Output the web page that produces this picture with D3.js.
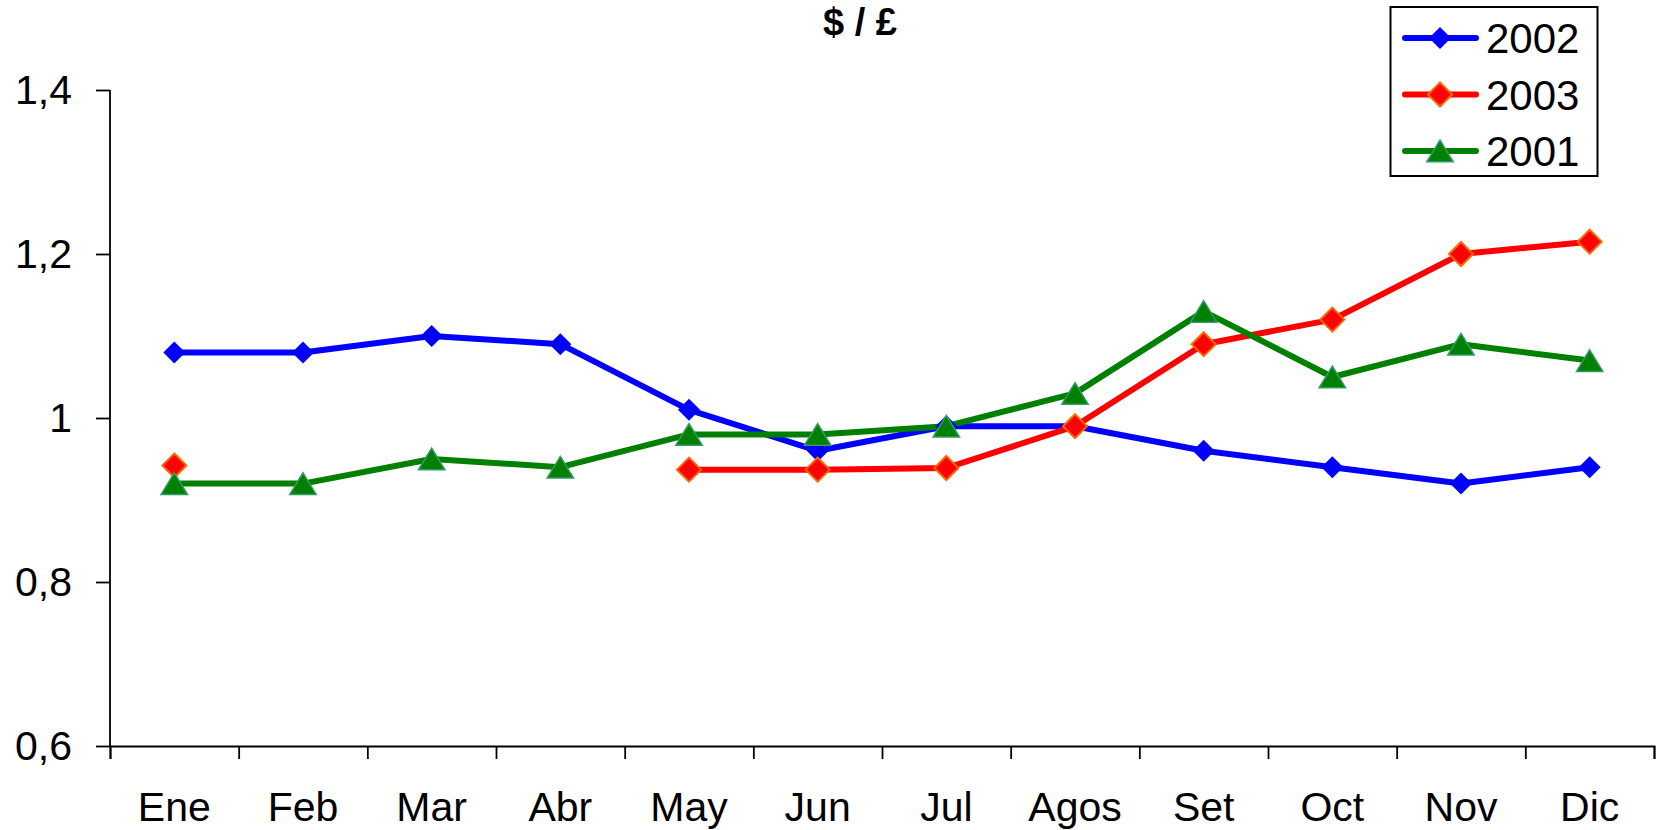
<!DOCTYPE html>
<html>
<head>
<meta charset="utf-8">
<script src="https://cdn.jsdelivr.net/npm/d3@7"></script>
<style>
  body { margin: 0; background: #fff; }
  svg { display: block; font-family: "Liberation Sans", Arial, sans-serif; }
</style>
</head>
<body>
<svg id="chart" width="1659" height="830"></svg>
<script>
const months = ["Ene", "Feb", "Mar", "Abr", "May", "Jun", "Jul", "Agos", "Set", "Oct", "Nov", "Dic"];
const yTicks = [0.6, 0.8, 1, 1.2, 1.4];

// series in legend order (also drawing order)
const v2002 = [1.08, 1.08, 1.10, 1.09, 1.01, 0.96, 0.99, 0.99, 0.96, 0.94, 0.92, 0.94];
const v2003 = [0.942, null, null, null, 0.937, 0.937, 0.939, 0.99, 1.09, 1.12, 1.20, 1.215];
const v2001 = [0.92, 0.92, 0.95, 0.94, 0.98, 0.98, 0.99, 1.03, 1.13, 1.05, 1.09, 1.07];

const series = [
  {name: "2002", values: v2002, color: "#0000ff", marker: "diamond", fill: "#0000ff", stroke: "#0000ff", size: 11, sw: 0},
  {name: "2003", values: v2003, color: "#ff0000", marker: "diamond", fill: "#ff0000", stroke: "#ff6600", size: 12, sw: 2},
  {name: "2001", values: v2001, color: "#008000", marker: "triangle", fill: "#008000", stroke: "#339966", size: 12, sw: 1.5}
];

const svg = d3.select("#chart");
const margin = {left: 110, right: 5, top: 90, bottom: 84};
const W = 1659, H = 830;

const x = d3.scaleBand().domain(months).range([margin.left, W - margin.right]);
const xEdge = d3.scaleLinear().domain([0, months.length]).range([margin.left, W - margin.right]);
const y = d3.scaleLinear().domain([0.6, 1.4]).range([H - margin.bottom, margin.top]);
const cx = m => x(m) + x.bandwidth() / 2;

svg.append("rect").attr("width", W).attr("height", H).attr("fill", "#fff");

// title
svg.append("text")
  .attr("x", 860).attr("y", 35)
  .attr("text-anchor", "middle")
  .attr("font-size", 38).attr("font-weight", "bold")
  .text("$ / £");

// y axis
const yAxis = svg.append("g")
  .attr("transform", `translate(${margin.left},0)`)
  .call(d3.axisLeft(y).tickValues(yTicks).tickSize(14).tickPadding(24)
    .tickFormat(d => String(d).replace(".", ",")));

// x axis: tick marks at band edges, labels at band centres
const xTicks = svg.append("g")
  .attr("transform", `translate(0,${y(0.6)})`)
  .call(d3.axisBottom(xEdge).tickValues(d3.range(months.length + 1)).tickSize(13).tickFormat(""));

const xLabels = svg.append("g")
  .attr("transform", `translate(0,${y(0.6)})`)
  .call(d3.axisBottom(x).tickSize(0).tickPadding(46));
xLabels.select(".domain").remove();

[yAxis, xTicks, xLabels].forEach(g => {
  g.selectAll("text").attr("font-size", 41).attr("font-family", null).attr("fill", "#000");
  g.selectAll("line").attr("stroke", "#000").attr("stroke-width", 1.8);
  g.select(".domain").attr("stroke", "#000").attr("stroke-width", 1.8);
});
yAxis.select(".domain").attr("d", `M0,${y(1.4)}V${y(0.6)}`);

function markerPath(type, r) {
  if (type === "diamond") return `M0,${-r}L${r},0L0,${r}L${-r},0Z`;
  const h = r * 1.8;
  return `M0,${-h / 2}L${r * 1.1},${h / 2}L${-r * 1.1},${h / 2}Z`;
}

const line = d3.line()
  .defined(d => d.v != null)
  .x(d => cx(d.m))
  .y(d => y(d.v));

// lines first, then markers on top
series.forEach(s => {
  const pts = months.map((m, i) => ({m, v: s.values[i]}));
  svg.append("path")
    .datum(pts)
    .attr("fill", "none")
    .attr("stroke", s.color)
    .attr("stroke-width", 6)
    .attr("stroke-linejoin", "round")
    .attr("d", line);
});

series.forEach(s => {
  const pts = months.map((m, i) => ({m, v: s.values[i]})).filter(d => d.v != null);
  svg.append("g").selectAll("path")
    .data(pts)
    .join("path")
    .attr("transform", d => `translate(${cx(d.m)},${y(d.v)})`)
    .attr("d", markerPath(s.marker, s.size))
    .attr("fill", s.fill)
    .attr("stroke", s.stroke)
    .attr("stroke-width", s.sw);
});

// legend
const legend = svg.append("g");
legend.append("rect")
  .attr("x", 1390.5).attr("y", 7).attr("width", 207).attr("height", 169)
  .attr("fill", "#fff").attr("stroke", "#000").attr("stroke-width", 2);

const items = legend.selectAll("g.item")
  .data(series)
  .join("g")
  .attr("class", "item")
  .attr("transform", (d, i) => `translate(0,${38 + i * 56.5})`);

items.append("line")
  .attr("x1", 1405).attr("x2", 1476)
  .attr("stroke", d => d.color).attr("stroke-width", 6).attr("stroke-linecap", "round");
items.append("path")
  .attr("transform", "translate(1440,0)")
  .attr("d", d => markerPath(d.marker, d.size))
  .attr("fill", d => d.fill).attr("stroke", d => d.stroke).attr("stroke-width", d => d.sw);
items.append("text")
  .attr("x", 1486).attr("y", 15)
  .attr("font-size", 42)
  .text(d => d.name);
</script>
</body>
</html>
